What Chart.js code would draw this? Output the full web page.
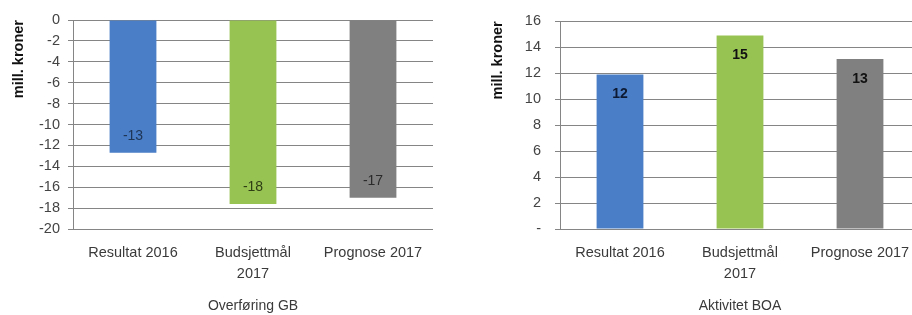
<!DOCTYPE html>
<html>
<head>
<meta charset="utf-8">
<script src="https://cdn.jsdelivr.net/npm/chart.js@4"></script>
<style>
  html, body { margin: 0; padding: 0; background: #fff; overflow: hidden; width: 912px; height: 315px; }
  .box { position: absolute; top: 0; height: 315px; }
</style>
</head>
<body>
<div class="box" style="left:0;width:456px"><canvas id="leftChart" width="456" height="315"></canvas></div>
<div class="box" style="left:456px;width:470px"><canvas id="rightChart" width="470" height="315"></canvas></div>
<script>
// --- data ---
const categories = ["Resultat 2016", ["Budsjettmål", "2017"], "Prognose 2017"];
const overforingGB = [-12.7, -17.6, -17.0];
const overforingLabels = ["-13", "-18", "-17"];
const aktivitetBOA = [11.9, 14.9, 13.1];
const aktivitetLabels = ["12", "15", "13"];
const barColors = ["#4a7ec6", "#97c353", "#808080"];

const FONT = "'Liberation Sans', Arial, sans-serif";
const gridGray = "#858585";

// draw the value inside the end of each bar (no datalabels plugin available)
const insideLabels = {
  id: "insideLabels",
  afterDatasetsDraw(chart, args, opts) {
    const ctx = chart.ctx;
    const meta = chart.getDatasetMeta(0);
    ctx.save();
    ctx.font = opts.font;
    ctx.textAlign = "center";
    ctx.textBaseline = "middle";
    meta.data.forEach((bar, i) => {
      const v = chart.data.datasets[0].data[i];
      const y = v < 0 ? bar.y - opts.offset : bar.y + opts.offset;
      ctx.fillStyle = opts.colors[i];
      ctx.fillText(opts.texts[i], bar.x, y);
    });
    ctx.restore();
  }
};

function barConfig(values, texts, opt) {
  return {
    type: "bar",
    data: {
      labels: categories,
      datasets: [{
        data: values,
        backgroundColor: barColors,
        barPercentage: 0.78,
        categoryPercentage: 0.5
      }]
    },
    options: {
      responsive: false,
      animation: false,
      layout: { padding: { left: 0, right: opt.padRight, top: 20, bottom: 0 } },
      plugins: {
        legend: { display: false },
        tooltip: { enabled: false },
        insideLabels: { texts, colors: opt.labelColors, font: opt.labelFont, offset: opt.labelOffset }
      },
      scales: {
        x: {
          grid: { display: false, drawTicks: false },
          border: { display: false },
          ticks: { color: "#3a3a3a", padding: 13, font: { family: FONT, size: 14.5, lineHeight: 1.45 } },
          title: { display: true, text: opt.title, color: "#3a3a3a", padding: { top: 0, bottom: 0 }, font: { family: FONT, size: 14 } },
          afterFit(scale) { scale.height = 86; }
        },
        y: {
          min: opt.min,
          max: opt.max,
          ticks: {
            stepSize: 2,
            autoSkip: false,
            color: "#444",
            padding: opt.tickPad,
            font: { family: FONT, size: 14.5, lineHeight: 1 },
            callback: opt.tickFormat
          },
          grid: { color: gridGray, lineWidth: 1, tickLength: 5 },
          border: { display: true, color: gridGray },
          title: { display: true, text: "mill. kroner", align: "end", color: "#111", padding: { top: opt.titlePad, bottom: 0 }, font: { family: FONT, size: 14.5, weight: "bold" } },
          afterFit(scale) { scale.width = opt.axisWidth; }
        }
      }
    },
    plugins: [insideLabels]
  };
}

new Chart(document.getElementById("leftChart"), barConfig(overforingGB, overforingLabels, {
  title: "Overføring GB",
  min: -20, max: 0,
  padRight: 23, axisWidth: 73, tickPad: 8, titlePad: 10,
  labelColors: ["#1f3556", "#2e3d14", "#2a2a2a"],
  labelFont: "14px " + FONT,
  labelOffset: 17,
  tickFormat: v => String(v)
}));

new Chart(document.getElementById("rightChart"), barConfig(aktivitetBOA, aktivitetLabels, {
  title: "Aktivitet BOA",
  min: 0, max: 16,
  padRight: 6, axisWidth: 104, tickPad: 14, titlePad: 33,
  labelColors: ["#0d1a33", "#111", "#111"],
  labelFont: "bold 14px " + FONT,
  labelOffset: 20,
  tickFormat: v => (v === 0 ? "-" : String(v))
}));
</script>
</body>
</html>
